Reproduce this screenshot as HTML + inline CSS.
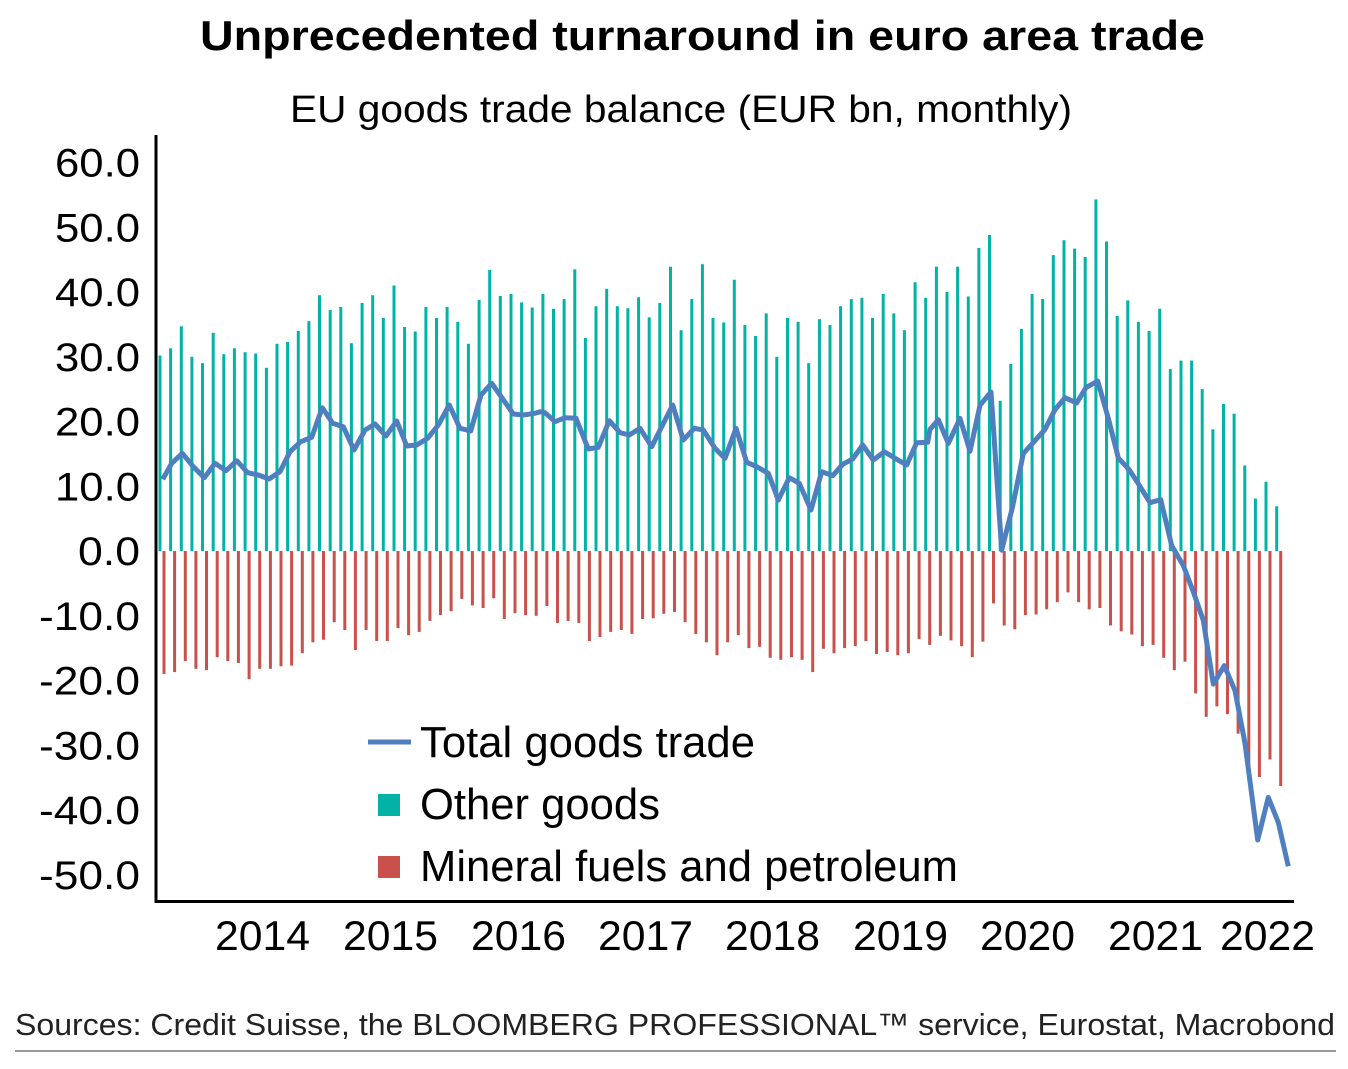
<!DOCTYPE html>
<html><head><meta charset="utf-8"><style>
html,body{margin:0;padding:0;background:#fff;}
body{width:1348px;height:1064px;overflow:hidden;font-family:"Liberation Sans",Arial,sans-serif;}
</style></head><body>
<svg id="s" width="1348" height="1064" xmlns="http://www.w3.org/2000/svg" font-family="Liberation Sans, Arial, sans-serif">
<text x="200" y="50" font-size="42" font-weight="bold" textLength="1005" lengthAdjust="spacingAndGlyphs">Unprecedented turnaround in euro area trade</text>
<text x="290" y="122" font-size="38" textLength="782" lengthAdjust="spacingAndGlyphs">EU goods trade balance (EUR bn, monthly)</text>
<g id="bars"></g>
<g id="yl" font-size="40"></g>
<g font-size="42">
<text x="215" y="950" textLength="95" lengthAdjust="spacingAndGlyphs">2014</text><text x="343" y="950" textLength="95" lengthAdjust="spacingAndGlyphs">2015</text><text x="471" y="950" textLength="95" lengthAdjust="spacingAndGlyphs">2016</text>
<text x="598" y="950" textLength="95" lengthAdjust="spacingAndGlyphs">2017</text><text x="725" y="950" textLength="95" lengthAdjust="spacingAndGlyphs">2018</text><text x="853" y="950" textLength="95" lengthAdjust="spacingAndGlyphs">2019</text>
<text x="980" y="950" textLength="95" lengthAdjust="spacingAndGlyphs">2020</text><text x="1108" y="950" textLength="95" lengthAdjust="spacingAndGlyphs">2021</text><text x="1220" y="950" textLength="95" lengthAdjust="spacingAndGlyphs">2022</text>
</g>
<line x1="156" y1="135" x2="156" y2="903" stroke="#000" stroke-width="3"/>
<line x1="155" y1="901.5" x2="1294" y2="901.5" stroke="#000" stroke-width="3"/>
<polyline id="ln" fill="none" stroke="#4f7fbf" stroke-width="5" stroke-linejoin="round"/>
<line x1="368" y1="742" x2="411" y2="742" stroke="#4f7fbf" stroke-width="5"/>
<rect x="378" y="794" width="22" height="22" fill="#00b3a6"/>
<rect x="378" y="856" width="22" height="22" fill="#c9504b"/>
<g font-size="44">
<text x="420" y="757" textLength="335" lengthAdjust="spacingAndGlyphs">Total goods trade</text>
<text x="420" y="819" textLength="240" lengthAdjust="spacingAndGlyphs">Other goods</text>
<text x="420" y="881" textLength="538" lengthAdjust="spacingAndGlyphs">Mineral fuels and petroleum</text></g>
<text x="15" y="1035" font-size="31" fill="#222" textLength="1320" lengthAdjust="spacingAndGlyphs">Sources: Credit Suisse, the BLOOMBERG PROFESSIONAL™ service, Eurostat, Macrobond</text>
<line x1="15" y1="1051" x2="1336" y2="1051" stroke="#999" stroke-width="2"/>
</svg>
<script>
function Y(v){return 551-v*6.475;}
var g=[30.2,31.3,34.7,30,29,33.7,30.4,31.3,30.7,30.5,28.3,32,32.3,34,35.5,39.5,37.2,37.7,32.1,38.3,39.5,36,41,34.6,33.9,37.7,36,37.7,35.4,32,38.8,43.4,39.4,39.7,38.4,37.6,39.7,
37.4,38.9,43.5,32.9,37.8,40.5,37.8,37.5,39.2,36.1,38.3,43.9,34.1,38.9,44.3,36,35.3,41.9,34.9,33.2,36.7,30,36,35.4,29,35.8,34.9,37.8,38.9,39.1,36,39.7,36.7,34.1,41.5,39.1,43.9,
40,43.9,39.3,46.8,48.8,23.2,28.9,34.3,39.7,38.9,45.7,48,46.7,45.4,54.3,47.8,36.3,38.7,35.4,34,37.4,28.1,29.4,29.4,25,18.8,22.7,21.2,13.2,8.1,10.7,6.9];
var r=[-19,-18.7,-17,-18.2,-18.4,-16.4,-17,-17.3,-19.8,-18.2,-18.2,-17.8,-17.7,-15.8,-14.1,-13.7,-11,-12.2,-15.3,-12.2,-13.9,-13.9,-11.9,-13,-12.5,-10.8,-9.9,-9.3,-7.4,-8.4,-8.8,-7.3,-10.5,-9.6,-9.9,-10,-8.5,
-11.1,-10.8,-11.1,-13.9,-13.3,-12.5,-12.2,-12.8,-10.5,-10.4,-9.7,-9.4,-11,-12.8,-14.1,-16.1,-14.1,-13,-15,-14.8,-16.5,-16.8,-16.4,-16.8,-18.7,-15.1,-15.8,-15,-14.7,-13.9,-15.9,-15.6,-16.1,-15.8,-13.6,-14.5,-13.1,
-13.8,-14.7,-16.4,-14,-8.1,-11.5,-12.1,-9.9,-9.8,-9,-7.9,-6.4,-7.9,-9,-8.8,-11.5,-12.4,-12.9,-14.7,-14.5,-16.5,-18.4,-17.1,-22,-25.6,-24,-25.2,-28.2,-34.9,-34.9,-32.2,-36.3];
var b=document.getElementById('bars'),h='';
for(var i=0;i<g.length;i++){var x=160+i*10.635;
h+='<rect x="'+(x-1.5).toFixed(1)+'" y="'+Y(g[i]).toFixed(1)+'" width="3" height="'+(g[i]*6.475).toFixed(1)+'" fill="#00b3a6"/>';
if(i<r.length)h+='<rect x="'+(x+2.5).toFixed(1)+'" y="551" width="3" height="'+(-r[i]*6.475).toFixed(1)+'" fill="#c9504b"/>';}
b.innerHTML=h;
var yl='';for(var v=60;v>=-50;v-=10){var w=v<0?101:(v>=10?85:62);yl+='<text x="'+(140-w)+'" y="'+(Y(v)+14).toFixed(1)+'" textLength="'+w+'" lengthAdjust="spacingAndGlyphs">'+v.toFixed(1)+'</text>';}
document.getElementById('yl').innerHTML=yl;
var z1=[[38,688],[65,640],[97,610],[130,650],[163,683],[195,640],[228,662],[260,632],[293,668],[325,675],[357,687],[390,665],[420,605],[452,575],[485,562],[517,473],[548,520],[580,530],[612,600],[645,540],[675,522],[708,558],[740,513],[770,588],[800,585],[833,565],[865,525],[898,465],[930,535],[962,543],[993,435],[1025,400],[1057,445],[1090,492],[1120,495],[1155,490]];
var z2=[[0,485],[15,488],[45,515],[75,503],[108,505],[145,597],[175,592],[208,512],[240,548],[268,555],[300,535],[335,590],[365,530],[398,465],[430,570],[463,535],[490,540],[525,595],[555,625],[588,535],[620,637],[650,650],[685,670],[715,750],[748,683],[778,700],[813,780],[845,665],[878,677],[908,643],[938,627],[968,585],[1000,630],[1033,605],[1065,625],[1100,645],[1130,578],[1163,577]];
var z3=[[0,545],[25,523],[55,577],[90,520],[120,595],[150,490],[183,460],[215,820],[248,720],[280,600],[310,575],[345,545],[375,500],[405,473],[440,485],[468,450],[503,435],[535,520],[565,610],[598,637],[630,675],[660,712],[692,705],[725,810],[760,855],[790,915],[820,980],[850,1125],[883,1083],[915,1140],[945,1260],[983,1480],[1015,1383],[1045,1440],[1075,1540]];
var p=[];
z1.forEach(function(a){p.push((150+a[0]/3).toFixed(1)+','+(250+a[1]/3).toFixed(1));});
z2.forEach(function(a){p.push((540+a[0]/3).toFixed(1)+','+(250+a[1]/3).toFixed(1));});
z3.forEach(function(a){p.push((930+a[0]/3).toFixed(1)+','+(190+a[1]/2.277).toFixed(1));});
document.getElementById('ln').setAttribute('points',p.join(' '));
</script>
</body></html>
